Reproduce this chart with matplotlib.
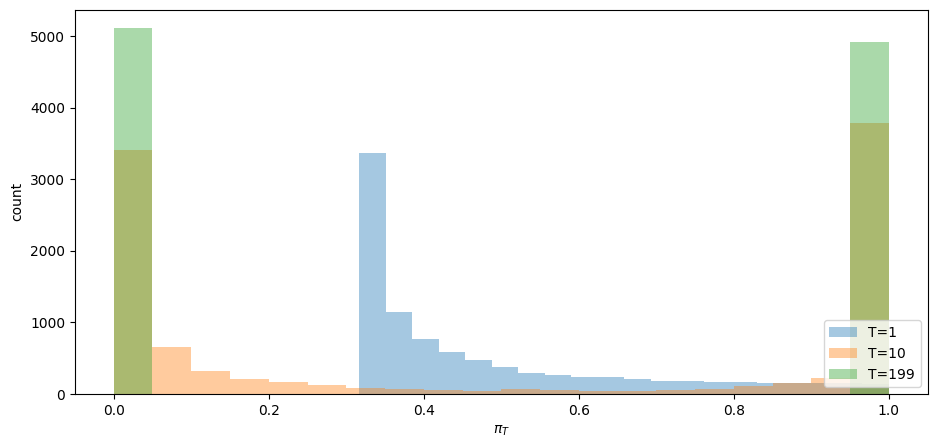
import numpy as np
import matplotlib
matplotlib.use("Agg")
import matplotlib.pyplot as plt

# T=1 histogram: 20 bins between min and max of the sample
t1_range = (0.317, 1.0)
t1_counts = [3360, 1145, 768, 587, 475, 384, 300, 272, 244, 244,
             216, 188, 188, 161, 161, 160, 160, 160, 150, 140]

# T=10 histogram: 20 bins on [0, 1]
t10_range = (0.0, 1.0)
t10_counts = [3410, 650, 328, 216, 161, 119, 91, 77, 63, 49,
              77, 63, 49, 49, 63, 72, 109, 158, 230, 3785]

# T=199 histogram: 20 bins on [0, 1]
t199_range = (0.0, 1.0)
t199_counts = [5110, 0, 0, 0, 0, 0, 0, 0, 0, 0,
               0, 0, 0, 0, 0, 0, 0, 0, 0, 4916]

labels = ["T=1", "T=10", "T=199"]

fig = plt.figure(figsize=(9.37, 4.48), dpi=100)
ax = fig.add_axes([0.080, 0.1205, 0.910, 0.8575])

for rng, counts, lab in [(t1_range, t1_counts, labels[0]),
                         (t10_range, t10_counts, labels[1]),
                         (t199_range, t199_counts, labels[2])]:
    edges = np.linspace(rng[0], rng[1], len(counts) + 1)
    centers = (edges[:-1] + edges[1:]) / 2
    ax.hist(centers, bins=edges, weights=counts, alpha=0.4, label=lab)

ax.set_xlabel(r"$\pi_T$")
ax.set_ylabel("count")
ax.legend(loc="lower right")

fig.savefig("out.png", dpi=100)
